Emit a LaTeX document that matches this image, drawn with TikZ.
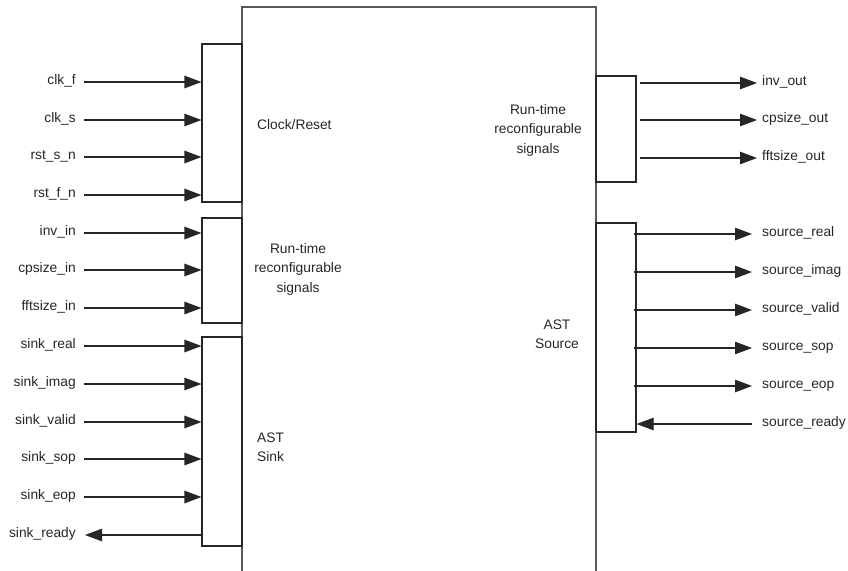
\documentclass[tikz,border=0pt]{standalone}
\usepackage{fontspec}
\setmainfont{Liberation Sans}
\usetikzlibrary{arrows.meta}
\begin{document}
\begin{tikzpicture}[x=1pt,y=-1pt,
  every node/.style={font=\fontsize{13.8}{19.5}\selectfont, text=black!85},
  port/.style={draw=black!85, line width=1.1pt, fill=white, minimum width=40pt, inner sep=0pt},
  lbl/.style={inner sep=0pt, text height=0.72em, text depth=0.22em},
  sig/.style={draw=black!85, line width=1.1pt, -{Triangle[length=17pt,width=12.5pt]}},
  wall/.style={draw=black!65, line width=1.3pt}]
\useasboundingbox (0,0) rectangle (848,570);
% main block (open at the bottom)
\coordinate (mbl) at (242,572);
\coordinate (mtl) at (242,7);
\coordinate (mtr) at (596,7);
\coordinate (mbr) at (596,572);
\draw[wall] (mbl) -- (mtl) -- (mtr) -- (mbr);
% port boxes
\node[port, minimum height=158pt] (clk) at (222,123) {};
\node[port, minimum height=105pt] (rtl) at (222,270.5) {};
\node[port, minimum height=209pt] (snk) at (222,441.5) {};
\node[port, minimum height=106pt] (rtr) at (616,129) {};
\node[port, minimum height=209pt] (src) at (616,327.5) {};
% inner texts
\node[anchor=west, inner sep=0pt] (tclk) at (257,125) {Clock/Reset};
\node[align=center, inner sep=0pt] (trtl) at (298,269) {Run-time\\reconfigurable\\signals};
\node[align=left, anchor=west, inner sep=0pt] (tsnk) at (257,447) {AST\\Sink};
\node[align=center, inner sep=0pt] (trtr) at (538,130) {Run-time\\reconfigurable\\signals};
\node[align=center, inner sep=0pt] (tsrc) at (557,334) {AST\\Source};
% left inputs
\foreach \n/\y/\t/\b in {a1/82/clk\_f/clk, a2/120/clk\_s/clk, a3/157/rst\_s\_n/clk, a4/195/rst\_f\_n/clk,
  a5/233/inv\_in/rtl, a6/270/cpsize\_in/rtl, a7/308/fftsize\_in/rtl,
  a8/346/sink\_real/snk, a9/384/sink\_imag/snk, a10/422/sink\_valid/snk, a11/459/sink\_sop/snk, a12/497/sink\_eop/snk}{
  \coordinate (\n) at (84,\y);
  \node[lbl, anchor=east] (l\n) at ([xshift=-8pt]\n) {\t};
  \draw[sig] (\n) -- (\b.west |- \n);
}
\coordinate (a13) at (85,535);
\node[lbl, anchor=east] (la13) at ([xshift=-9pt]a13) {sink\_ready};
\draw[sig] (snk.west |- a13) -- (a13);
% right outputs
\foreach \n/\y/\t in {b1/83/inv\_out, b2/120/cpsize\_out, b3/158/fftsize\_out}{
  \coordinate (\n) at (757,\y);
  \node[lbl, anchor=west] (l\n) at ([xshift=5pt]\n) {\t};
  \draw[sig] ([xshift=3pt]rtr.east |- \n) -- (\n);
}
\foreach \n/\y/\t in {c1/234/source\_real, c2/272/source\_imag, c3/310/source\_valid, c4/348/source\_sop, c5/386/source\_eop}{
  \coordinate (\n) at (752,\y);
  \node[lbl, anchor=west] (l\n) at ([xshift=10pt]\n) {\t};
  \draw[sig] ([xshift=-3pt]src.east |- \n) -- (\n);
}
\coordinate (c6) at (752,424);
\node[lbl, anchor=west] (lc6) at ([xshift=10pt]c6) {source\_ready};
\draw[sig] (c6) -- (src.east |- c6);
\end{tikzpicture}
\end{document}
